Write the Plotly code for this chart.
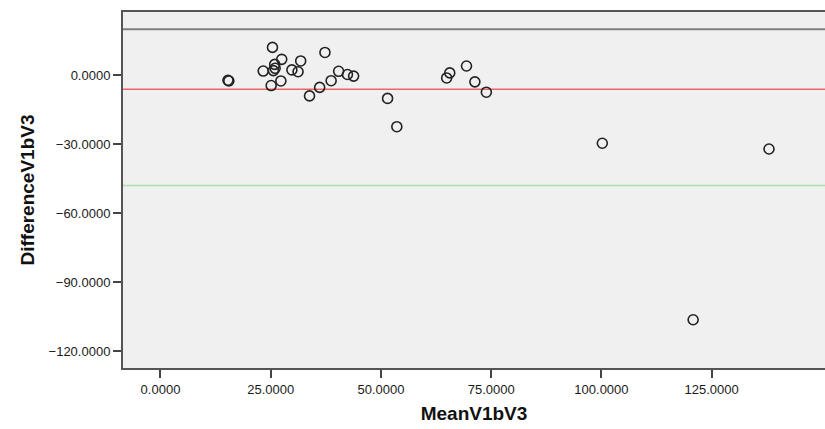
import plotly.graph_objects as go

# Data (Bland-Altman style plot)
mean_v1bv3 = [15.3, 15.5, 25.4, 23.3, 25.9, 26.0, 25.6, 27.5, 25.1, 27.3,
              29.8, 31.2, 31.8, 33.8, 37.3, 36.1, 38.7, 40.4, 42.4, 43.8,
              51.5, 53.6, 64.9, 65.6, 69.4, 71.3, 73.9, 100.2, 138.0, 120.8]
diff_v1bv3 = [-2.2, -2.5, 12.1, 1.8, 4.7, 3.0, 2.0, 6.9, -4.5, -2.5,
              2.3, 1.5, 6.2, -9.0, 9.9, -5.3, -2.4, 1.7, 0.3, -0.4,
              -10.1, -22.4, -1.2, 1.0, 4.0, -2.9, -7.4, -29.6, -32.1, -106.4]

upper_limit = 20.0
mean_diff = -6.1
lower_limit = -48.0

x_ticks = [0, 25, 50, 75, 100, 125]
y_ticks = [0, -30, -60, -90, -120]
x_range = [-8.5, 150.7]
y_range = [-127.4, 27.5]

fig = go.Figure()

ref_lines = [(upper_limit, "#7f7f7f", 2), (mean_diff, "#ee6464", 1.5), (lower_limit, "#a6e3a6", 1.5)]
for val, col, w in ref_lines:
    fig.add_shape(type="line", xref="paper", x0=0, x1=1, yref="y", y0=val, y1=val,
                  line=dict(color=col, width=w), layer="below")

fig.add_trace(go.Scatter(
    x=mean_v1bv3, y=diff_v1bv3, mode="markers",
    marker=dict(symbol="circle-open", size=10, color="#222222",
                line=dict(width=1.6, color="#222222")),
    showlegend=False, hoverinfo="x+y"))

axis_font = dict(family="Liberation Sans, Arial, sans-serif", size=13, color="#1a1a1a")
title_font = dict(family="Liberation Sans, Arial, sans-serif", size=19, color="#111111")

fig.update_xaxes(range=x_range, tickvals=x_ticks, tickformat=".4f",
                 ticks="outside", ticklen=8, tickwidth=1.5, tickcolor="#444444",
                 showgrid=False, zeroline=False, showline=True, linecolor="#555555",
                 linewidth=2, mirror=True, tickfont=axis_font,
                 title=dict(text="<b>MeanV1bV3</b>", font=title_font, standoff=11))
fig.update_yaxes(range=y_range, tickvals=y_ticks, tickformat=".4f",
                 ticks="outside", ticklen=8, tickwidth=1.5, tickcolor="#444444",
                 showgrid=False, zeroline=False, showline=True, linecolor="#555555",
                 linewidth=2, mirror=True, tickfont=axis_font,
                 title=dict(text="<b>DifferenceV1bV3</b>", font=title_font, standoff=9))

fig.update_layout(width=825, height=429,
                  margin=dict(l=123, r=0, t=12, b=61, autoexpand=False),
                  plot_bgcolor="#f0f0f0", paper_bgcolor="white")

fig.write_html("out.html")
